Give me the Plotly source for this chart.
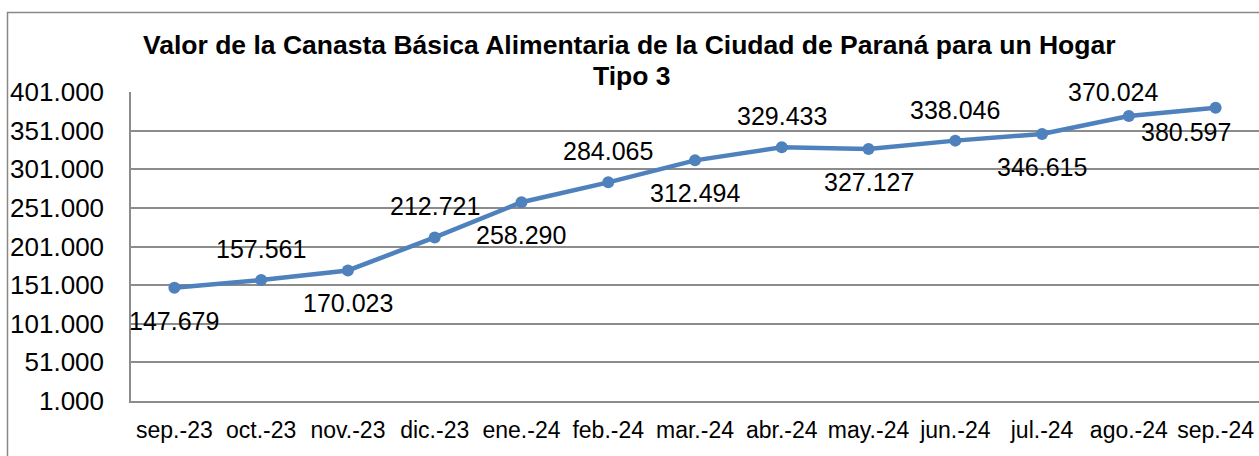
import plotly.graph_objects as go

months = ["sep.-23", "oct.-23", "nov.-23", "dic.-23", "ene.-24", "feb.-24", "mar.-24",
          "abr.-24", "may.-24", "jun.-24", "jul.-24", "ago.-24", "sep.-24"]
values = [147679, 157561, 170023, 212721, 258290, 284065, 312494,
          329433, 327127, 338046, 346615, 370024, 380597]
y_tick_vals = [1000, 51000, 101000, 151000, 201000, 251000, 301000, 351000, 401000]
y_tick_text = ["1.000", "51.000", "101.000", "151.000", "201.000", "251.000",
               "301.000", "351.000", "401.000"]
title_lines = ["Valor de la Canasta Básica Alimentaria de la Ciudad de Paraná para un Hogar",
               "Tipo 3"]

def fmt(v):
    return f"{v:,}".replace(",", ".")

LINE = "#4F81BD"
GRID = "#8C8C8C"
FONT = "Liberation Sans, Arial, sans-serif"

fig = go.Figure()
fig.add_trace(go.Scatter(
    x=months, y=values, mode="lines+markers",
    line=dict(color=LINE, width=4.5),
    marker=dict(color=LINE, size=12),
    hoverinfo="skip", showlegend=False,
))

n = len(months)
for i, (m, v) in enumerate(zip(months, values)):
    below = (i % 2 == 0)
    ys = -33 if below else 31
    xs = 0
    if i == n - 1:
        xs, ys = -30, -24
    elif i == n - 2:
        xs, ys = -16, 24
    fig.add_annotation(x=m, y=v, text=fmt(v), showarrow=False,
                       xshift=xs, yshift=ys, yanchor="middle", xanchor="center",
                       font=dict(family=FONT, size=25, color="#000000"))

fig.add_annotation(xref="paper", yref="paper", x=(629 - 131) / 1128, y=(401 - 45) / 309,
                   text="<b>" + title_lines[0] + "</b>", showarrow=False,
                   xanchor="center", yanchor="middle",
                   font=dict(family=FONT, size=26.5, color="#000000"))
fig.add_annotation(xref="paper", yref="paper", x=(632 - 131) / 1128, y=(401 - 76) / 309,
                   text="<b>" + title_lines[1] + "</b>", showarrow=False,
                   xanchor="center", yanchor="middle",
                   font=dict(family=FONT, size=26.5, color="#000000"))

# outer chart border
fig.add_shape(type="rect", xref="paper", yref="paper",
              x0=(7.5 - 131) / 1128, x1=1.05, y0=-0.3, y1=(401 - 12.5) / 309,
              line=dict(color="#898989", width=1.5), layer="below")

fig.update_layout(
    width=1259, height=456,
    margin=dict(l=131, r=0, t=92, b=55),
    paper_bgcolor="white", plot_bgcolor="white",
    font=dict(family=FONT, color="#000000"),
)
fig.update_xaxes(
    type="category", range=[-0.5, n - 0.5],
    showgrid=False, showline=True, linecolor=GRID, linewidth=1.5,
    ticks="", tickfont=dict(size=23, family=FONT), ticklabelstandoff=8,
)
fig.update_yaxes(
    range=[1000, 401000], tickvals=y_tick_vals, ticktext=y_tick_text,
    showgrid=True, gridcolor=GRID, gridwidth=1.5,
    showline=True, linecolor=GRID, linewidth=1.5, zeroline=False,
    ticks="", tickfont=dict(size=26, family=FONT), ticklabelstandoff=20,
)

fig.write_html("out.html", config={"displayModeBar": False},
               post_script="document.body.style.margin='0';document.body.style.overflow='hidden';")
